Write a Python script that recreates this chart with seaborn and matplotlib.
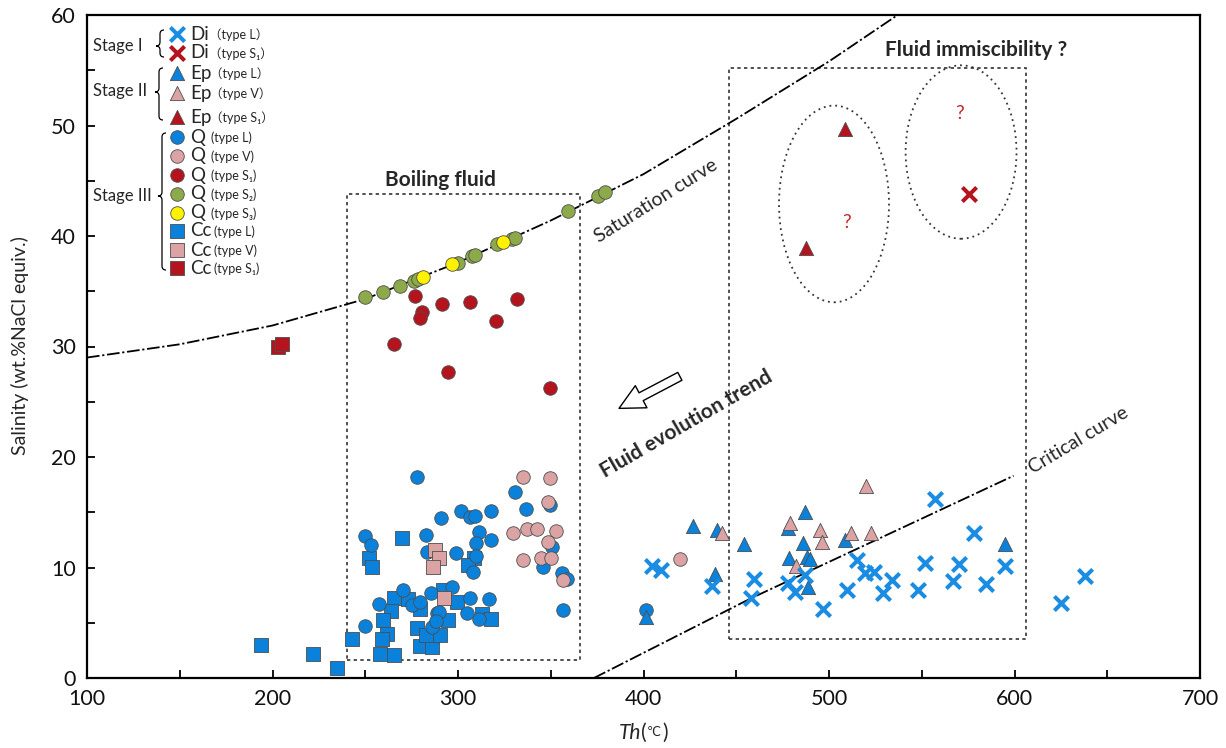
import matplotlib
matplotlib.use("Agg")
import numpy as np
import pandas as pd
import matplotlib.pyplot as plt
import seaborn as sns
from matplotlib.patches import Rectangle, Ellipse, PathPatch
from matplotlib.path import Path
from matplotlib.ticker import MultipleLocator

# ---------------- Fluid inclusion data: Th (°C) and salinity (wt.% NaCl equiv.) ----------------
# Stage I  - diopside
di_L_th = [404.6, 409.6, 436.9, 459.6, 457.8, 477.8, 481.9, 486.9, 496.7, 509.6, 514.9, 519.2,
           524.5, 529.0, 534.0, 547.9, 552.0, 557.0, 567.0, 569.9, 577.9, 584.7, 594.7, 625.0, 638.0]
di_L_sal = [10.14, 9.77, 8.35, 8.93, 7.24, 8.57, 7.81, 9.32, 6.24, 7.96, 10.68, 9.48,
            9.62, 7.67, 8.87, 7.96, 10.43, 16.17, 8.78, 10.32, 13.15, 8.48, 10.16, 6.81, 9.26]
di_S1_th = [575.3]
di_S1_sal = [43.8]

# Stage II - epidote
ep_L_th = [426.6, 439.6, 454.4, 438.7, 401.6, 477.8, 486.9, 485.8, 478.5, 488.0, 489.6, 488.7, 508.7, 594.7]
ep_L_sal = [13.76, 13.39, 12.10, 9.41, 5.55, 13.55, 15.05, 12.24, 10.83, 10.98, 10.77, 8.21, 12.49, 12.10]
ep_V_th = [442.5, 479.0, 494.9, 496.0, 482.4, 511.9, 522.7, 519.9]
ep_V_sal = [13.15, 14.05, 13.39, 12.34, 10.14, 13.15, 13.15, 17.38]
ep_S1_th = [508.4, 487.6]
ep_S1_sal = [49.7, 38.9]

# Stage III - quartz
q_L_th = [277.7, 249.7, 252.9, 282.6, 283.1, 290.7, 270.5, 257.6, 249.7, 275.0, 279.5, 285.4,
          288.5, 285.8, 298.8, 301.6, 306.5, 309.2, 317.6, 311.5, 309.7, 317.6, 307.9, 309.7,
          330.7, 336.7, 349.6, 350.5, 345.7, 355.9, 358.6, 356.4, 296.6, 306.5, 316.7, 304.7,
          311.5, 289.8, 288.1, 401.6]
q_L_sal = [18.16, 12.85, 12.04, 12.94, 11.43, 14.45, 7.96, 6.70, 4.73, 6.61, 6.90, 7.72,
           5.86, 4.64, 11.29, 15.14, 14.60, 14.66, 15.14, 13.24, 12.24, 12.49, 9.62, 11.04,
           16.81, 15.27, 15.66, 11.88, 10.07, 9.53, 8.93, 6.15, 8.26, 7.21, 7.15, 5.86,
           5.31, 5.95, 5.19, 6.15]
q_V_th = [334.9, 349.6, 348.7, 329.8, 337.4, 342.8, 352.7, 348.7, 334.9, 344.6, 350.1, 356.8, 419.8]
q_V_sal = [18.22, 18.07, 15.95, 13.15, 13.48, 13.48, 13.33, 12.33, 10.68, 10.83, 10.89, 8.87, 10.77]
q_S1_th = [276.8, 280.4, 279.7, 265.7, 291.6, 306.5, 320.5, 331.8, 294.6, 349.6]
q_S1_sal = [34.57, 33.09, 32.55, 30.23, 33.85, 34.03, 32.31, 34.30, 27.69, 26.20]
q_S2_th = [249.9, 259.6, 268.7, 276.3, 278.4, 300.0, 307.5, 309.2, 321.0, 329.1, 330.7, 359.3, 375.5, 379.2]
q_S2_sal = [34.5, 34.9, 35.5, 35.9, 36.1, 37.6, 38.2, 38.3, 39.3, 39.7, 39.8, 42.3, 43.6, 44.0]
q_S3_th = [281.1, 296.8, 324.3]
q_S3_sal = [36.3, 37.5, 39.5]

# Stage III - calcite
cc_L_th = [193.8, 221.8, 234.6, 242.9, 269.6, 251.9, 253.8, 265.7, 272.9, 263.9, 279.7, 259.7,
           261.6, 258.9, 258.0, 265.7, 277.7, 285.8, 279.7, 285.8, 282.7, 308.6, 305.6, 299.6,
           294.8, 312.8, 317.6, 291.7, 290.3]
cc_L_sal = [2.99, 2.20, 0.88, 3.53, 12.70, 10.89, 10.02, 7.27, 7.12, 6.09, 6.24, 5.25,
            3.98, 3.50, 2.17, 2.08, 4.50, 3.80, 2.92, 2.83, 3.89, 10.83, 10.23, 6.85,
            5.25, 5.76, 5.34, 7.96, 3.89]
cc_V_th = [287.6, 289.9, 286.7, 292.5]
cc_V_sal = [11.58, 10.89, 10.07, 7.27]
cc_S1_th = [202.8, 205.0]
cc_S1_sal = [29.93, 30.20]

# Reference curves of the NaCl-H2O system
sat_th = [100, 150, 200, 250, 300, 350, 400, 450, 500, 537]
sat_sal = [29.0, 30.2, 31.9, 34.3, 37.6, 41.4, 45.6, 50.6, 55.8, 60.0]
crit_th = [373.3, 457.8, 599.5]
crit_sal = [0.0, 7.2, 18.3]

# Outlined fields
boil_box = dict(th=(240.2, 366.0), sal=(1.63, 43.8))
immisc_box = dict(th=(446.1, 606.0), sal=(3.5, 55.2))
ellipses = [dict(center=(502.7, 42.9), width=59.3, height=17.8),
            dict(center=(571.2, 47.6), width=59.8, height=15.7)]
question_marks = [(509.5, 41.2), (570.3, 51.1)]

# ---------------- Styling ----------------
BLUE = "#0A82DC"
BLUE_X = "#1A8DE2"
PINK = "#DBA3A3"
RED = "#B3141E"
GREEN = "#8CAA4A"
YELLOW = "#FFF200"
EDGE = "#4d4d4d"

groups = [
    ("Cc L", cc_L_th, cc_L_sal, "s", BLUE, 3),
    ("Q L", q_L_th, q_L_sal, "o", BLUE, 3),
    ("Cc V", cc_V_th, cc_V_sal, "s", PINK, 4),
    ("Q V", q_V_th, q_V_sal, "o", PINK, 4),
    ("Q S1", q_S1_th, q_S1_sal, "o", RED, 4),
    ("Q S2", q_S2_th, q_S2_sal, "o", GREEN, 4),
    ("Q S3", q_S3_th, q_S3_sal, "o", YELLOW, 5),
    ("Cc S1", cc_S1_th, cc_S1_sal, "s", RED, 4),
    ("Ep L", ep_L_th, ep_L_sal, "^", BLUE, 4),
    ("Ep V", ep_V_th, ep_V_sal, "^", PINK, 5),
    ("Ep S1", ep_S1_th, ep_S1_sal, "^", RED, 5),
    ("Di L", di_L_th, di_L_sal, "x", BLUE_X, 6),
    ("Di S1", di_S1_th, di_S1_sal, "x", RED, 6),
]

df = pd.concat([pd.DataFrame({"Th": th, "Salinity": sal, "group": name})
                for name, th, sal, *_ in groups], ignore_index=True)

sns.set_theme(style="ticks")
FONTS = ["Lato", "Noto Sans CJK SC", "DejaVu Sans"]
plt.rcParams["font.family"] = FONTS

W, H = 1226, 748
fig = plt.figure(figsize=(W / 100, H / 100), dpi=100)
ax = fig.add_axes([87 / W, 1 - 678 / H, 1113 / W, 663 / H])


def fpos(px, py):
    """Figure-pixel position (origin top-left) to figure fraction."""
    return px / W, 1 - py / H


def marker_kws(marker, color):
    if marker == "x":
        return dict(marker="x", color=color, s=105, linewidth=2.9)
    size = 105 if marker == "^" else 95
    return dict(marker=marker, color=color, s=size, edgecolor=EDGE, linewidth=0.6)


for name, th, sal, marker, color, z in groups:
    sns.scatterplot(data=df[df["group"] == name], x="Th", y="Salinity", ax=ax,
                    legend=False, zorder=z, **marker_kws(marker, color))

# Saturation and critical curves
ax.plot(sat_th, sat_sal, color="black", lw=1.3, ls=(0, (7, 1.5, 1.2, 1.5)), zorder=2)
ax.plot(crit_th, crit_sal, color="black", lw=1.3, ls=(0, (7, 1.5, 1.2, 1.5)), zorder=2)

# Dotted outlines
for box in (boil_box, immisc_box):
    (x0, x1), (y0, y1) = box["th"], box["sal"]
    ax.add_patch(Rectangle((x0, y0), x1 - x0, y1 - y0, fill=False, ec="#333333",
                           lw=1.2, ls=(0, (2, 2)), zorder=1))
for e in ellipses:
    ax.add_patch(Ellipse(e["center"], e["width"], e["height"], fill=False, ec="#333333",
                         lw=1.3, ls=(0, (1, 2.2)), zorder=1))
for qx, qy in question_marks:
    ax.text(qx, qy, "?", color="#C0272D", fontsize=14, ha="center", va="center")

# Annotations
ax.text(290.3, 45.1, "Boiling fluid", fontsize=15, fontweight="bold", ha="center", va="center")
ax.text(579.3, 56.8, "Fluid immiscibility ?", fontsize=15, fontweight="bold",
        ha="center", va="center")
ax.text(423.0, 23.0, "Fluid evolution trend", fontsize=15, fontweight="bold",
        ha="center", va="center", rotation=30, rotation_mode="anchor")
ax.text(406.5, 43.2, "Saturation curve", fontsize=14, ha="center", va="center",
        rotation=32, rotation_mode="anchor")
ax.text(634.5, 21.5, "Critical curve", fontsize=14, ha="center", va="center",
        rotation=31, rotation_mode="anchor")
ax.annotate("", xy=(386.8, 24.4), xytext=(419.6, 27.3),
            arrowprops=dict(arrowstyle="simple,head_length=0.9,head_width=0.9,tail_width=0.32",
                            fc="white", ec="black", lw=1.0, mutation_scale=20,
                            shrinkA=0, shrinkB=0))

# Axes
ax.set_xlim(100, 700)
ax.set_ylim(0, 60)
ax.xaxis.set_major_locator(MultipleLocator(100))
ax.xaxis.set_minor_locator(MultipleLocator(50))
ax.yaxis.set_major_locator(MultipleLocator(10))
ax.yaxis.set_minor_locator(MultipleLocator(5))
ax.tick_params(which="both", direction="in", length=6, width=1.3, color="black",
               labelsize=15.5, labelcolor="#111111", pad=8)
for s in ax.spines.values():
    s.set_linewidth(1.6)
    s.set_color("black")
ax.set_xlabel("")
ax.set_ylabel("")

# Axis titles: italic "Th" followed by a small degree-Celsius sign in brackets
t_th = fig.text(*fpos(641, 733), "Th", fontsize=15, style="italic", ha="right", va="center")
t_open = ax.annotate("(", xy=(1, 0), xycoords=t_th, va="bottom", ha="left", fontsize=15)
t_deg = ax.annotate("℃", xy=(1, 0.18), xycoords=t_open, va="bottom", ha="left",
                    fontsize=9, family=["DejaVu Sans"])
ax.annotate(")", xy=(1, 0), xycoords=t_open, xytext=(11, 0), textcoords="offset points",
            va="bottom", ha="left", fontsize=15)
fig.text(*fpos(20, 346), "Salinity (wt.%NaCl equiv.)", fontsize=14, rotation=90,
         ha="center", va="center")

# ---------------- Stage legend ----------------
legend_rows = [
    ("x", BLUE_X, "Di", "（type L）"),
    ("x", RED, "Di", "（type S₁）"),
    ("^", BLUE, "Ep", "（type L）"),
    ("^", PINK, "Ep", "（type V）"),
    ("^", RED, "Ep", "（type S₁）"),
    ("o", BLUE, "Q", "(type L)"),
    ("o", PINK, "Q", "(type V)"),
    ("o", RED, "Q", "(type S₁)"),
    ("o", GREEN, "Q", "(type S₂)"),
    ("o", YELLOW, "Q", "(type S₃)"),
    ("s", BLUE, "Cc", "(type L)"),
    ("s", PINK, "Cc", "(type V)"),
    ("s", RED, "Cc", "(type S₁)"),
]
row_py = [34, 53, 73, 93, 117, 137, 156, 175, 194, 213, 231, 250, 268]
suffix_px = {"Di": 209, "Ep": 210, "Q": 211, "Cc": 214}
stage_labels = [("Stage I", 46), ("Stage II", 91), ("Stage III", 196)]
brace_spans = [(160, 30, 46, 57), (159, 68, 92, 120), (162, 133, 196, 270)]

for (marker, color, mineral, kind), py in zip(legend_rows, row_py):
    fx, fy = fpos(177, py)
    ax.scatter([fx], [fy], transform=fig.transFigure, clip_on=False, zorder=6,
               **marker_kws(marker, color))
    fig.text(*fpos(190, py), mineral, fontsize=13.5, ha="left", va="center")
    fig.text(*fpos(suffix_px[mineral], py + 1), kind, fontsize=9, ha="left", va="center")

for label, py in stage_labels:
    fig.text(*fpos(93, py), label, fontsize=12, ha="left", va="center")


def brace(x, top, mid, bot, w=4.0):
    pts = [(x + w, top), (x, top), (x, top + w),
           (x, mid - w), (x, mid), (x - w, mid),
           (x, mid), (x, mid + w),
           (x, bot - w), (x, bot), (x + w, bot)]
    codes = [Path.MOVETO, Path.CURVE3, Path.CURVE3,
             Path.LINETO, Path.CURVE3, Path.CURVE3,
             Path.CURVE3, Path.CURVE3,
             Path.LINETO, Path.CURVE3, Path.CURVE3]
    verts = [fpos(px, py) for px, py in pts]
    fig.add_artist(PathPatch(Path(verts, codes), transform=fig.transFigure,
                             fill=False, ec="black", lw=0.9))


for x, top, mid, bot in brace_spans:
    brace(x, top, mid, bot)

fig.savefig("out.png", dpi=100)
